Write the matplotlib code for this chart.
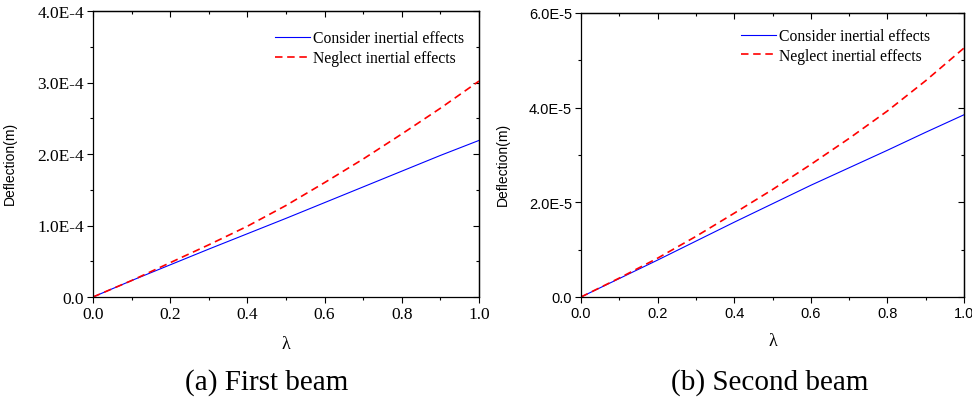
import numpy as np
import matplotlib
matplotlib.use("Agg")
import matplotlib.pyplot as plt
from matplotlib.ticker import MultipleLocator, FuncFormatter, NullFormatter

lam = [0.0, 0.1, 0.2, 0.3, 0.4, 0.5, 0.6, 0.7, 0.8, 0.9, 1.0]

# first beam (m)
beam1_consider = [0, 0.23e-4, 0.45e-4, 0.67e-4, 0.885e-4, 1.10e-4, 1.32e-4, 1.54e-4, 1.76e-4, 1.98e-4, 2.19e-4]
beam1_neglect = [0, 0.23e-4, 0.48e-4, 0.73e-4, 0.99e-4, 1.28e-4, 1.60e-4, 1.93e-4, 2.28e-4, 2.64e-4, 3.02e-4]

# second beam (m)
beam2_consider = [0, 0.39e-5, 0.78e-5, 1.18e-5, 1.58e-5, 1.97e-5, 2.36e-5, 2.73e-5, 3.10e-5, 3.48e-5, 3.85e-5]
beam2_neglect = [0, 0.40e-5, 0.82e-5, 1.28e-5, 1.77e-5, 2.27e-5, 2.80e-5, 3.35e-5, 3.93e-5, 4.57e-5, 5.26e-5]

labels = ["Consider inertial effects", "Neglect inertial effects"]
captions = ["(a) First beam", "(b) Second beam"]

serif = "Liberation Serif"
sans = "Liberation Sans"


def sci(v, pos):
    if abs(v) < 1e-12:
        return "0.0"
    mant, ex = ("%.1E" % v).split("E")
    return "%sE%d" % (mant, int(ex))


W, H = 972, 402
fig = plt.figure(figsize=(W / 100, H / 100), dpi=100)

panels = [
    dict(box=(93, 12, 479, 298), cons=beam1_consider, negl=beam1_neglect, ymax=4e-4, ystep=1e-4,
         tickfont=serif, ticksize=12.5, cap_x=267, leg=(0.4715, 0.932), ylab_x=-0.197, xlab_y=-0.133),
    dict(box=(581, 14, 964, 298), cons=beam2_consider, negl=beam2_neglect, ymax=6e-5, ystep=2e-5,
         tickfont=sans, ticksize=10.5, cap_x=770, leg=(0.418, 0.947), ylab_x=-0.185, xlab_y=-0.123),
]

for i, p in enumerate(panels):
    x0, y0, x1, y1 = p["box"]
    ax = fig.add_axes([x0 / W, 1 - y1 / H, (x1 - x0) / W, (y1 - y0) / H])
    ax.plot(lam, p["cons"], color="#0000ff", lw=0.8, label=labels[0])
    ax.plot(lam, p["negl"], color="#ff0000", lw=1.2, ls=(0, (4.5, 2.8)), label=labels[1])
    ax.set_xlim(0, 1)
    ax.set_ylim(0, p["ymax"])

    ax.xaxis.set_major_locator(MultipleLocator(0.2))
    ax.xaxis.set_minor_locator(MultipleLocator(0.1))
    ax.yaxis.set_major_locator(MultipleLocator(p["ystep"]))
    ax.yaxis.set_minor_locator(MultipleLocator(p["ystep"] / 2))
    ax.yaxis.set_major_formatter(FuncFormatter(sci))
    ax.xaxis.set_major_formatter(FuncFormatter(lambda v, pos: "%.1f" % v))
    ax.tick_params(which="both", direction="out", width=0.8, pad=2)
    ax.tick_params(which="major", length=4.5)
    ax.tick_params(which="minor", length=2.5)
    for lab in ax.get_xticklabels() + ax.get_yticklabels():
        lab.set_fontfamily(p["tickfont"])
        lab.set_fontsize(p["ticksize"])

    # inward ticks on the top and right frame
    top = ax.secondary_xaxis("top")
    top.xaxis.set_major_locator(MultipleLocator(0.2))
    top.xaxis.set_minor_locator(MultipleLocator(0.1))
    top.xaxis.set_major_formatter(NullFormatter())
    top.tick_params(which="both", direction="in", width=0.8)
    top.tick_params(which="major", length=4.5)
    top.tick_params(which="minor", length=2.5)
    right = ax.secondary_yaxis("right")
    right.yaxis.set_major_locator(MultipleLocator(p["ystep"]))
    right.yaxis.set_minor_locator(MultipleLocator(p["ystep"] / 2))
    right.yaxis.set_major_formatter(NullFormatter())
    right.tick_params(which="both", direction="in", width=0.8)
    right.tick_params(which="major", length=4.5)
    right.tick_params(which="minor", length=2.5)

    for sp in list(ax.spines.values()) + [top.spines["top"], right.spines["right"]]:
        sp.set_linewidth(0.9)

    ax.set_xlabel("λ", fontfamily=serif, fontsize=13)
    ax.xaxis.set_label_coords(0.5, p["xlab_y"])
    ax.set_ylabel("Deflection(m)", fontfamily=sans, fontsize=10)
    ax.yaxis.set_label_coords(p["ylab_x"], 0.47)

    ax.legend(loc="upper left", bbox_to_anchor=p["leg"], frameon=False,
              prop={"family": serif, "size": 11.3}, handlelength=2.2,
              handletextpad=0.2, labelspacing=0.25, borderpad=0, borderaxespad=0)

    fig.text(p["cap_x"] / W, 1 - 383 / H, captions[i], ha="center", va="center",
             fontfamily=serif, fontsize=21)

fig.savefig("out.png", dpi=100)
